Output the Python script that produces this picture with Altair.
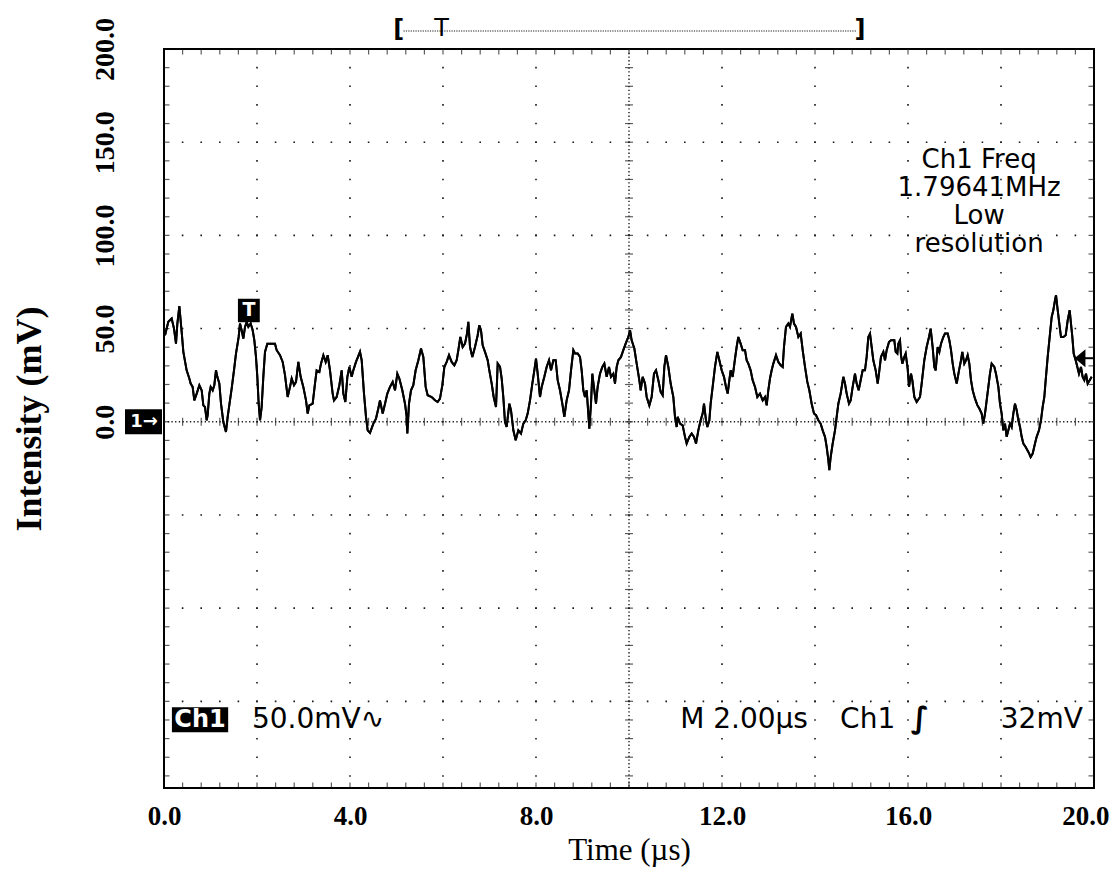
import altair as alt
import pandas as pd
import numpy as np

# ---------------- data ----------------
# (time in microseconds, intensity in mV)
trace_0_5 = [
    (0.022, 46.4), (0.093, 53.6), (0.165, 55.4), (0.215, 50.0), (0.258, 41.9), (0.287, 52.6), (0.330, 62.0), (0.380, 48.2), (0.416, 37.5), (0.487, 27.6),
    (0.545, 23.2), (0.573, 20.5), (0.616, 18.7), (0.652, 11.5), (0.703, 15.1), (0.760, 19.6), (0.810, 16.9), (0.846, 8.8), (0.882, 7.9), (0.918, 0.8),
    (0.939, 3.5), (0.975, 15.1), (1.004, 18.7), (1.047, 16.9), (1.082, 19.6), (1.118, 27.6), (1.147, 24.1), (1.190, 20.5), (1.226, 9.7), (1.276, -0.1),
    (1.333, -5.5), (1.369, 2.6), (1.419, 11.5), (1.455, 17.8), (1.505, 27.6), (1.548, 36.6), (1.606, 45.5), (1.634, 52.7), (1.670, 49.1), (1.706, 44.6),
    (1.742, 50.9), (1.778, 53.6), (1.814, 50.9), (1.864, 52.7), (1.907, 49.1), (1.943, 43.7), (1.978, 34.8), (2.007, 24.1), (2.036, 9.7), (2.065, 0.8),
    (2.100, 7.9), (2.136, 24.1), (2.172, 37.5), (2.222, 41.9), (2.387, 41.9), (2.423, 38.4), (2.495, 35.7), (2.552, 32.1), (2.602, 25.0), (2.659, 13.3),
    (2.710, 18.7), (2.746, 23.2), (2.796, 19.6), (2.839, 21.4), (2.889, 32.1), (2.939, 24.1), (2.996, 18.7), (3.054, 11.5), (3.090, 4.4), (3.125, 8.8),
    (3.197, 9.7), (3.247, 20.5), (3.283, 27.6), (3.341, 26.7), (3.376, 31.2), (3.427, 35.7), (3.477, 32.1), (3.520, 35.7), (3.570, 27.6), (3.627, 15.1),
    (3.656, 11.5), (3.713, 13.3), (3.771, 19.6), (3.821, 27.6), (3.857, 15.1), (3.900, 10.6), (3.943, 24.1), (3.986, 29.4), (4.036, 24.1), (4.072, 27.6),
    (4.129, 32.1), (4.215, 37.5), (4.251, 33.0), (4.301, 15.1), (4.344, 2.6), (4.380, -4.6), (4.430, -6.0), (4.502, -1.0), (4.559, 1.7), (4.609, 7.1),
    (4.645, 11.5), (4.703, 4.4), (4.753, 9.7), (4.803, 15.1), (4.860, 18.7), (4.918, 21.4), (4.968, 16.9), (5.018, 25.8), (5.061, 23.2),
]
trace_5_10 = [
    (5.125, 16.9), (5.183, 9.7), (5.219, 2.6), (5.233, -6.3), (5.269, 9.7), (5.312, 16.9), (5.362, 19.6), (5.412, 27.6), (5.470, 33.0), (5.527, 39.3),
    (5.577, 34.8), (5.627, 18.7), (5.670, 14.2), (5.756, 13.3), (5.828, 11.5), (5.885, 10.6), (5.935, 12.4), (5.986, 19.6), (6.029, 29.4), (6.079, 32.1),
    (6.129, 35.7), (6.186, 32.1), (6.244, 30.3), (6.294, 33.0), (6.330, 38.4), (6.373, 45.5), (6.423, 40.1), (6.473, 41.9), (6.516, 47.3), (6.545, 53.6),
    (6.581, 40.1), (6.631, 34.8), (6.688, 40.1), (6.746, 46.4), (6.781, 51.8), (6.817, 49.1), (6.853, 41.0), (6.903, 37.5), (6.961, 33.0), (6.996, 27.6),
    (7.047, 20.5), (7.090, 13.3), (7.140, 7.9), (7.176, 31.2), (7.226, 29.4), (7.262, 23.2), (7.297, 13.3), (7.333, -0.1), (7.369, -2.8), (7.427, 9.7),
    (7.462, 6.2), (7.513, -4.6), (7.563, -9.9), (7.620, -4.6), (7.677, -6.3), (7.728, -1.0), (7.778, 0.8), (7.821, 4.4), (7.871, 11.5), (7.921, 20.5),
    (7.964, 27.6), (8.000, 33.9), (8.036, 25.8), (8.086, 13.3), (8.122, 18.7), (8.179, 24.1), (8.229, 29.4), (8.280, 33.0), (8.323, 27.6), (8.373, 33.0),
    (8.423, 33.0), (8.466, 22.3), (8.516, 16.9), (8.566, 9.7), (8.609, 2.6), (8.659, 11.5), (8.710, 16.9), (8.753, 27.6), (8.803, 38.4), (8.839, 36.6),
    (8.896, 36.6), (8.946, 34.8), (8.982, 27.6), (9.018, 16.9), (9.054, 13.3), (9.090, 16.9), (9.125, 4.4), (9.147, -3.7), (9.183, 9.7), (9.211, 25.8),
    (9.254, 16.9), (9.290, 9.7), (9.326, 18.7), (9.376, 25.8), (9.427, 29.4), (9.470, 31.2), (9.520, 24.1), (9.570, 29.4), (9.613, 24.1), (9.663, 25.8),
    (9.699, 20.5), (9.735, 29.4), (9.771, 33.0), (9.828, 34.8), (9.878, 38.4), (9.928, 41.9), (9.986, 45.5), (10.022, 49.1), (10.057, 43.7), (10.115, 39.3),
]
trace_10_15 = [
    (10.165, 31.2), (10.222, 22.3), (10.251, 16.9), (10.294, 24.1), (10.344, 20.5), (10.380, 13.3), (10.437, 8.8), (10.487, 13.3), (10.538, 25.8), (10.581, 27.6),
    (10.631, 22.3), (10.681, 16.0), (10.724, 14.2), (10.760, 29.4), (10.796, 35.7), (10.846, 29.4), (10.896, 20.5), (10.953, 13.3), (10.989, 2.6), (11.025, -2.8),
    (11.047, 2.6), (11.097, -1.0), (11.154, -1.9), (11.204, -8.1), (11.240, -11.7), (11.297, -8.1), (11.348, -6.3), (11.398, -8.1), (11.441, -11.7), (11.491, -4.6),
    (11.541, 0.8), (11.584, 4.4), (11.613, 9.7), (11.656, 0.8), (11.685, -2.8), (11.728, 0.8), (11.756, 9.7), (11.799, 18.7), (11.849, 29.4), (11.900, 37.5),
    (11.943, 33.0), (11.993, 27.6), (12.043, 24.1), (12.086, 18.7), (12.122, 15.1), (12.158, 22.3), (12.186, 27.6), (12.229, 24.1), (12.280, 33.9), (12.315, 40.1),
    (12.351, 45.5), (12.401, 41.9), (12.444, 38.4), (12.495, 38.4), (12.530, 33.0), (12.566, 31.2), (12.616, 27.6), (12.659, 22.3), (12.710, 18.7), (12.760, 13.3),
    (12.817, 15.1), (12.875, 11.5), (12.925, 13.3), (12.961, 8.8), (12.996, 16.9), (13.032, 23.2), (13.068, 27.6), (13.104, 31.2), (13.161, 35.7), (13.211, 32.1),
    (13.262, 30.3), (13.305, 29.4), (13.333, 40.1), (13.376, 50.9), (13.427, 52.7), (13.462, 50.9), (13.512, 58.0), (13.548, 52.7), (13.591, 50.9), (13.642, 45.5),
    (13.692, 47.3), (13.735, 38.4), (13.785, 29.4), (13.835, 21.4), (13.878, 16.9), (13.928, 9.7), (13.978, 4.4), (14.022, 3.5), (14.072, 0.8), (14.122, -1.0),
    (14.165, -4.6), (14.215, -8.1), (14.251, -13.5), (14.287, -20.6), (14.308, -26.0), (14.337, -18.9), (14.380, -11.7), (14.430, -4.6), (14.466, 2.6), (14.502, 9.7),
    (14.552, 15.1), (14.609, 24.1), (14.645, 20.5), (14.681, 15.1), (14.731, 9.7), (14.767, 11.5), (14.810, 18.7), (14.860, 25.8), (14.896, 20.5), (14.939, 16.9),
    (14.982, 22.3), (15.025, 27.6), (15.075, 27.6), (15.111, 34.8), (15.147, 45.5), (15.183, 47.3),
]
trace_15_20 = [
    (15.219, 40.1), (15.254, 33.0), (15.305, 27.6), (15.348, 20.5), (15.376, 25.8), (15.419, 34.8), (15.470, 37.5), (15.505, 33.0), (15.541, 38.4), (15.591, 42.8),
    (15.634, 43.7), (15.706, 43.7), (15.735, 37.5), (15.771, 36.6), (15.792, 41.9), (15.828, 43.7), (15.849, 35.7), (15.878, 31.2), (15.921, 34.8), (15.950, 36.6),
    (15.993, 28.5), (16.022, 18.7), (16.065, 25.8), (16.093, 22.3), (16.136, 13.3), (16.186, 10.6), (16.258, 13.3), (16.294, 20.5), (16.351, 33.0), (16.401, 40.1),
    (16.452, 45.5), (16.487, 50.0), (16.530, 40.1), (16.566, 29.4), (16.595, 27.6), (16.638, 40.1), (16.674, 37.5), (16.710, 41.9), (16.760, 45.5), (16.796, 47.3),
    (16.853, 47.3), (16.889, 43.7), (16.925, 38.4), (16.961, 31.2), (16.996, 25.8), (17.047, 20.5), (17.097, 27.6), (17.140, 33.0), (17.168, 37.5), (17.211, 31.2),
    (17.247, 33.0), (17.283, 35.7), (17.319, 31.2), (17.355, 22.3), (17.391, 16.9), (17.441, 12.4), (17.491, 8.9), (17.534, 7.1), (17.584, 4.4), (17.620, -1.0),
    (17.656, 4.4), (17.692, 11.5), (17.728, 18.7), (17.763, 25.8), (17.799, 31.2), (17.857, 29.4), (17.892, 25.8), (17.943, 18.7), (17.978, 9.7), (18.014, 4.4),
    (18.050, -4.6), (18.086, -1.0), (18.122, -8.1), (18.158, -4.6), (18.194, -1.0), (18.229, -2.8), (18.265, 4.4), (18.301, 9.7), (18.337, 6.2), (18.373, 0.8),
    (18.409, -2.8), (18.445, -8.1), (18.480, -11.7), (18.530, -13.5), (18.588, -16.2), (18.638, -18.9), (18.681, -17.1), (18.731, -11.7), (18.767, -8.1), (18.817, -4.6),
    (18.860, 0.8), (18.896, 8.0), (18.932, 13.3), (18.961, 22.3), (19.004, 34.8), (19.054, 47.3), (19.090, 56.2), (19.125, 59.8), (19.161, 65.2), (19.183, 67.9),
    (19.211, 61.6), (19.254, 52.7), (19.290, 45.5), (19.341, 45.5), (19.391, 46.4), (19.434, 54.4), (19.477, 59.8), (19.505, 52.7), (19.534, 45.5), (19.563, 36.6),
    (19.606, 33.0), (19.642, 29.4), (19.677, 25.8), (19.720, 29.4), (19.756, 24.1), (19.792, 22.3), (19.828, 25.8), (19.864, 20.5), (19.907, 22.3), (19.950, 24.1),
]

# axis / graticule values
x_tick_values = [0, 4, 8, 12, 16, 20]
y_tick_values = [0, 50, 100, 150, 200]
x_grid_values = [2, 4, 6, 8, 12, 14, 16, 18]
y_grid_values = [150, 100, 50, -50, -100, -150]
x_center = [10]
y_center = [0]

# on-screen readouts
freq_lines = ["Ch1 Freq", "1.79641MHz", "Low", "resolution"]
freq_baselines = [136.0, 121.0, 106.0, 90.9]
bottom_left_texts = ["50.0mV\u223f", "M 2.00\u00b5s", "Ch1"]
bottom_left_t = [1.89, 11.10, 14.54]
trigger_slope_text = ["\u222b"]
trigger_slope_t = [16.06]
bottom_right_texts = ["32mV"]
bottom_right_t = [19.76]

# ---------------- layout ----------------
W, H = 930, 739
X_DOMAIN = [0, 20]
Y_DOMAIN = [-196.5, 200]
SERIF = "Liberation Serif"
SANS = "DejaVu Sans"
DOT = "#1a1a1a"

wave = pd.DataFrame(trace_0_5 + trace_5_10 + trace_10_15 + trace_15_20, columns=["t", "v"])

xs = alt.Scale(domain=X_DOMAIN, nice=False, zero=False)
ys = alt.Scale(domain=Y_DOMAIN, nice=False, zero=False)

x_axis = alt.Axis(values=x_tick_values, format=".1f", title="Time (\u00b5s)",
                  labelFont=SERIF, labelFontSize=27, labelFontWeight="bold", labelColor="black",
                  labelAlign={"condition": {"test": "datum.value >= 20", "value": "right"}, "value": "center"},
                  labelOffset={"condition": {"test": "datum.value >= 20", "value": 15}, "value": 0},
                  labelPadding=15, labelFlush=False, labelOverlap=False, ticks=False, domain=False,
                  grid=False, titleFont=SERIF, titleFontSize=31, titleFontWeight="normal",
                  titleColor="black", titlePadding=6)
y_axis = alt.Axis(values=y_tick_values, format=".1f", title="Intensity (mV)",
                  labelFont=SERIF, labelFontSize=28, labelFontWeight="bold", labelColor="black",
                  labelAngle=270, labelAlign="center", labelBaseline="alphabetic", labelPadding=51,
                  labelFlush=False, labelOverlap=False, ticks=False, domain=False, grid=False,
                  titleFont=SERIF, titleFontSize=36, titleFontWeight="bold", titleColor="black",
                  titleAngle=270, titleAlign="center", titleBaseline="alphabetic",
                  titleX=-124, titleY=H / 2)

# the same encodings (with the axes) are used by every layer that has a t / v field
X = alt.X("t:Q", scale=xs, axis=x_axis)
Y = alt.Y("v:Q", scale=ys, axis=y_axis)

# ---------------- graticule ----------------
vgrid = alt.Chart(pd.DataFrame({"t": x_grid_values})).mark_rule(
    color=DOT, strokeWidth=1.6, strokeDash=[1.6, 17.04], strokeDashOffset=0.8
).encode(x=X, y=alt.value(0), y2=alt.value(H))

hgrid = alt.Chart(pd.DataFrame({"v": y_grid_values})).mark_rule(
    color=DOT, strokeWidth=1.6, strokeDash=[1.6, 17.0], strokeDashOffset=0.8
).encode(y=Y, x=alt.value(0), x2=alt.value(W))

vcenter = alt.Chart(pd.DataFrame({"t": x_center})).mark_rule(
    color=DOT, strokeWidth=1.4, strokeDash=[1.3, 2.4]
).encode(x=X, y=alt.value(0), y2=alt.value(H))

hcenter = alt.Chart(pd.DataFrame({"v": y_center})).mark_rule(
    color=DOT, strokeWidth=1.4, strokeDash=[1.3, 2.4]
).encode(y=Y, x=alt.value(0), x2=alt.value(W))

minor_t = np.round(np.arange(1, 50) * 0.4, 3)
minor_v = np.arange(-190, 200, 10)

hc_ticks = alt.Chart(pd.DataFrame({"t": minor_t, "v": 0.0})).mark_tick(
    orient="vertical", size=8, thickness=1.2, color=DOT
).encode(x=X, y=Y)
vc_ticks = alt.Chart(pd.DataFrame({"t": 10.0, "v": minor_v})).mark_tick(
    orient="horizontal", size=8, thickness=1.2, color=DOT
).encode(x=X, y=Y)

top_ticks = alt.Chart(pd.DataFrame({"t": minor_t})).mark_tick(
    orient="vertical", size=5, thickness=1.2, color=DOT, yOffset=3
).encode(x=X, y=alt.value(0))
bot_ticks = alt.Chart(pd.DataFrame({"t": minor_t})).mark_tick(
    orient="vertical", size=5, thickness=1.2, color=DOT, yOffset=-3
).encode(x=X, y=alt.value(H))
left_ticks = alt.Chart(pd.DataFrame({"v": minor_v})).mark_tick(
    orient="horizontal", size=5, thickness=1.2, color=DOT, xOffset=3
).encode(y=Y, x=alt.value(0))
right_ticks = alt.Chart(pd.DataFrame({"v": minor_v})).mark_tick(
    orient="horizontal", size=5, thickness=1.2, color=DOT, xOffset=-3
).encode(y=Y, x=alt.value(W))

# ---------------- waveform ----------------
line = alt.Chart(wave).mark_line(color="black", strokeWidth=2).encode(x=X, y=Y)

# ---------------- scope markers ----------------
trig_box = alt.Chart(pd.DataFrame({"t": [1.59], "t2": [2.06], "v": [66.0], "v2": [53.4]})).mark_rect(
    color="black").encode(x=X, x2="t2:Q", y=Y, y2="v2:Q")
trig_txt = alt.Chart(pd.DataFrame({"t": [1.825], "v": [59.7], "s": ["T"]})).mark_text(
    color="white", font=SANS, fontWeight="bold", fontSize=19, baseline="middle", align="center"
).encode(x=X, y=Y, text="s:N")

ch_box = alt.Chart(pd.DataFrame({"v": [6.7], "v2": [-6.7]})).mark_rect(color="black").encode(
    x=alt.value(-39), x2=alt.value(-2), y=Y, y2="v2:Q")
ch_txt = alt.Chart(pd.DataFrame({"v": [0.0], "s": ["1\u2192"]})).mark_text(
    color="white", font=SANS, fontWeight="bold", fontSize=18, baseline="middle", align="center"
).encode(x=alt.value(-20), y=Y, text="s:N")

lvl_arrow = alt.Chart(pd.DataFrame({"t": [19.70], "v": [34.1]})).mark_point(
    shape="M 0.6 -1 L -0.6 0 L 0.6 1 Z", filled=True, color="black", size=324, opacity=1
).encode(x=X, y=Y)
lvl_line = alt.Chart(pd.DataFrame({"t": [19.80], "t2": [20.0], "v": [34.1]})).mark_rule(
    color="black", strokeWidth=2).encode(x=X, x2="t2:Q", y=Y)

# record bracket above the graticule
br_line = alt.Chart(pd.DataFrame({"t": [5.15], "t2": [14.9]})).mark_rule(
    color=DOT, strokeWidth=1.2, strokeDash=[1.2, 1.2]).encode(x=X, x2="t2:Q", y=alt.value(-18))
br_txt = alt.Chart(pd.DataFrame({"t": [5.05, 14.97], "s": ["[", "]"]})).mark_text(
    color="black", font=SANS, fontWeight="bold", fontSize=24, baseline="middle", align="center"
).encode(x=X, y=alt.value(-19), text="s:N")
br_t = alt.Chart(pd.DataFrame({"t": [5.97], "s": ["T"]})).mark_text(
    color="black", font=SANS, fontSize=24, baseline="middle", align="center"
).encode(x=X, y=alt.value(-20), text="s:N")

# frequency readout
freq = alt.Chart(pd.DataFrame({"t": 17.53, "v": freq_baselines, "s": freq_lines})).mark_text(
    color="black", font=SANS, fontSize=26, baseline="alphabetic", align="center"
).encode(x=X, y=Y, text="s:N")

# bottom status line
ch1_box = alt.Chart(pd.DataFrame({"t": [0.17], "t2": [1.38], "v": [-153.2], "v2": [-166.6]})).mark_rect(
    color="black").encode(x=X, x2="t2:Q", y=Y, y2="v2:Q")
ch1_txt = alt.Chart(pd.DataFrame({"t": [0.775], "v": [-160.2], "s": ["Ch1"]})).mark_text(
    color="white", font=SANS, fontWeight="bold", fontSize=24, baseline="middle", align="center"
).encode(x=X, y=Y, text="s:N")
status_l = alt.Chart(pd.DataFrame({"t": bottom_left_t, "v": -164.4, "s": bottom_left_texts})).mark_text(
    color="black", font=SANS, fontSize=28, baseline="alphabetic", align="left"
).encode(x=X, y=Y, text="s:N")
status_slope = alt.Chart(pd.DataFrame({"t": trigger_slope_t, "v": -164.4, "s": trigger_slope_text})).mark_text(
    color="black", font=SANS, fontSize=30, fontWeight="bold", baseline="alphabetic", align="left"
).encode(x=X, y=Y, text="s:N")
status_r = alt.Chart(pd.DataFrame({"t": bottom_right_t, "v": -164.4, "s": bottom_right_texts})).mark_text(
    color="black", font=SANS, fontSize=28, baseline="alphabetic", align="right"
).encode(x=X, y=Y, text="s:N")

chart = alt.layer(
    line, vgrid, hgrid, vcenter, hcenter, hc_ticks, vc_ticks,
    top_ticks, bot_ticks, left_ticks, right_ticks,
    trig_box, trig_txt, ch_box, ch_txt, lvl_arrow, lvl_line,
    br_line, br_txt, br_t, freq, ch1_box, ch1_txt, status_l, status_slope, status_r,
    line,
).properties(
    width=W, height=H,
    autosize=alt.AutoSizeParams(type="none"),
    padding={"left": 156, "top": 41, "right": 18, "bottom": 90},
    background="white",
).configure_view(stroke="black", strokeWidth=2)

chart.save("out.html", embed_options={"renderer": "svg", "actions": False})
